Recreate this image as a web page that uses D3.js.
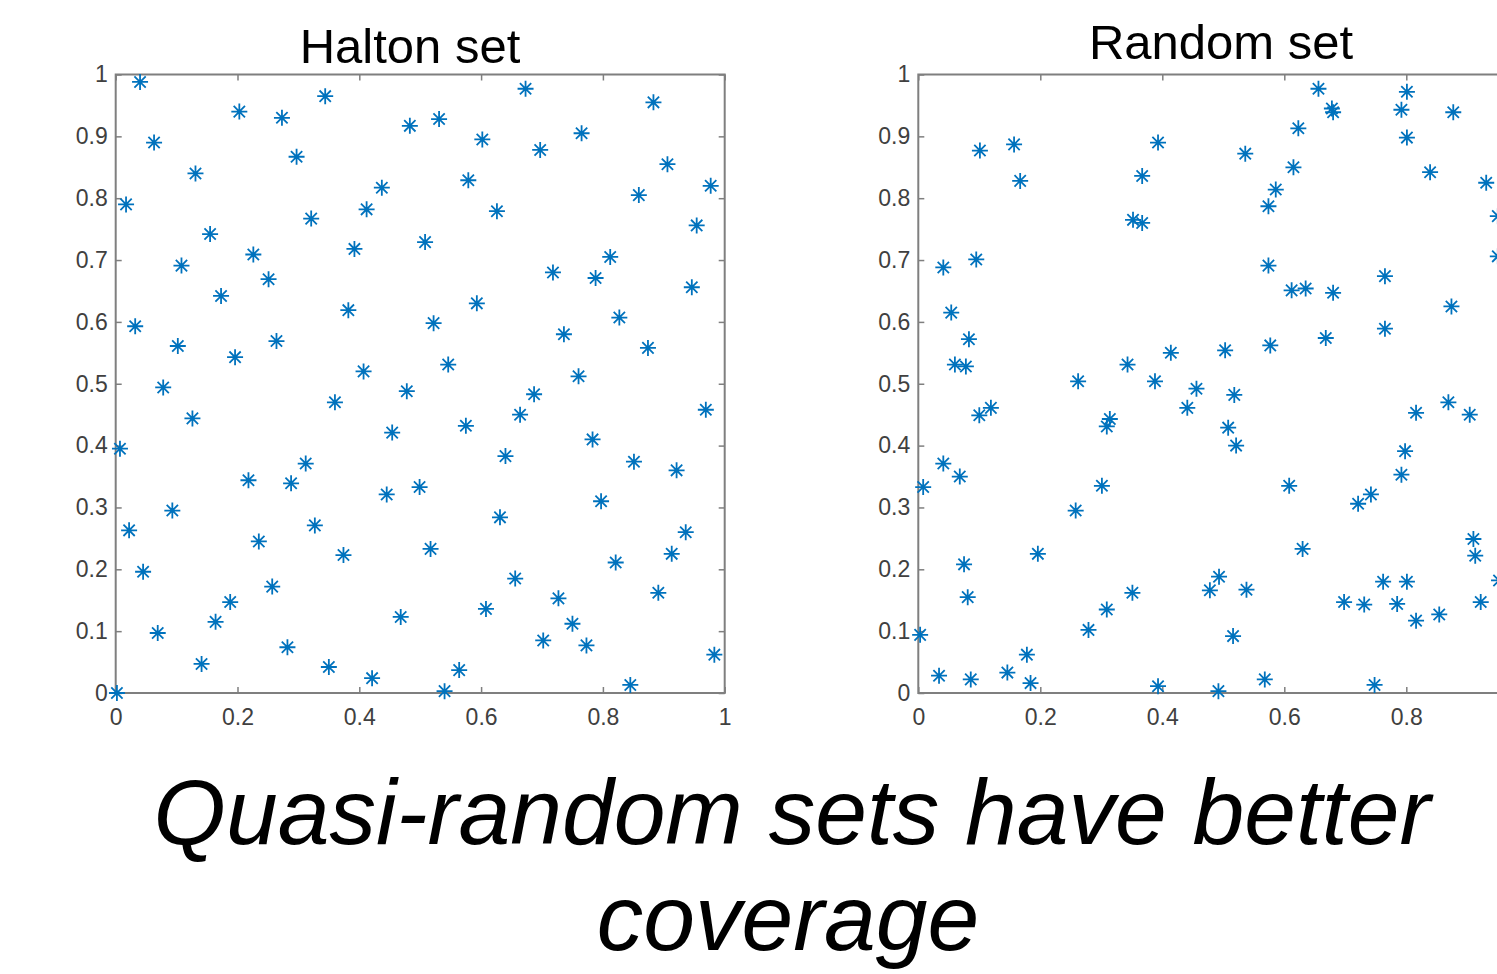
<!DOCTYPE html>
<html>
<head>
  <meta charset="utf-8">
  <title>Halton set vs Random set</title>
  <script src="https://d3js.org/d3.v7.min.js"></script>
  <style>
    body { margin: 0; overflow: hidden; background: #fff; }
    .tick text { font-family: "Liberation Sans", Arial, sans-serif; font-size: 23px; fill: #404040; }
    .tick line { stroke: #7f7f7f; stroke-width: 1.5; }
  </style>
</head>
<body>
<svg id="chart" width="1497" height="974"></svg>
<script>
// points
const haltonX = [0.040, 0.203, 0.273, 0.344, 0.483, 0.063, 0.297, 0.131, 0.437, 0.017,
  0.412, 0.321, 0.155, 0.392, 0.226, 0.108, 0.251, 0.173, 0.382, 0.032,
  0.102, 0.264, 0.196, 0.407,
  0.673, 0.883, 0.531, 0.602, 0.697, 0.765, 0.906, 0.579, 0.977, 0.859,
  0.626, 0.954, 0.508, 0.812, 0.718, 0.788, 0.946, 0.593, 0.827, 0.522,
  0.736, 0.874, 0.546, 0.760,
  0.078, 0.126, 0.007, 0.218, 0.288, 0.312, 0.360, 0.454, 0.478, 0.445,
  0.499, 0.093, 0.022, 0.327, 0.235, 0.374, 0.045, 0.257, 0.188, 0.164,
  0.468, 0.069, 0.282, 0.141, 0.350, 0.421, 0.002,
  0.687, 0.969, 0.664, 0.575, 0.783, 0.640, 0.851, 0.921, 0.797, 0.631,
  0.936, 0.517, 0.913, 0.821, 0.656, 0.891, 0.727, 0.608, 0.750, 0.702,
  0.773, 0.983, 0.564, 0.540, 0.845];
const haltonY = [0.988, 0.940, 0.930, 0.965, 0.917, 0.890, 0.867, 0.840, 0.817, 0.790,
  0.782, 0.767, 0.742, 0.718, 0.709, 0.691, 0.669, 0.642, 0.619, 0.593,
  0.561, 0.569, 0.543, 0.520,
  0.977, 0.955, 0.928, 0.895, 0.878, 0.905, 0.855, 0.829, 0.820, 0.805,
  0.779, 0.756, 0.729, 0.705, 0.680, 0.671, 0.656, 0.630, 0.607, 0.598,
  0.580, 0.558, 0.531, 0.512,
  0.494, 0.444, 0.395, 0.344, 0.339, 0.371, 0.470, 0.421, 0.488, 0.321,
  0.333, 0.295, 0.263, 0.271, 0.245, 0.223, 0.196, 0.172, 0.147, 0.115,
  0.123, 0.097, 0.074, 0.047, 0.042, 0.024, 0.000,
  0.483, 0.458, 0.450, 0.432, 0.410, 0.383, 0.374, 0.360, 0.310, 0.284,
  0.260, 0.233, 0.225, 0.211, 0.185, 0.162, 0.153, 0.136, 0.112, 0.085,
  0.077, 0.062, 0.037, 0.003, 0.013];

const randomX = [0.101, 0.157, 0.167, 0.393, 0.367, 0.352, 0.367, 0.041, 0.095, 0.054,
  0.083, 0.060, 0.078, 0.262, 0.343, 0.414, 0.388,
  0.656, 0.678, 0.680, 0.801, 0.792, 0.877, 0.801, 0.623, 0.536, 0.615,
  0.839, 0.931, 0.586, 0.574, 0.950, 0.574, 0.950, 0.765, 0.612, 0.635,
  0.680, 0.874, 0.765, 0.668, 0.577, 0.503,
  0.456, 0.100, 0.119, 0.441, 0.309, 0.314, 0.041, 0.068, 0.008, 0.301,
  0.258, 0.196, 0.075, 0.081, 0.351, 0.309, 0.279, 0.478, 0.003, 0.178,
  0.034, 0.086, 0.146, 0.184, 0.393,
  0.518, 0.508, 0.521, 0.816, 0.869, 0.904, 0.798, 0.792, 0.608, 0.721,
  0.742, 0.630, 0.910, 0.913, 0.493, 0.538, 0.762, 0.801, 0.698, 0.731,
  0.785, 0.816, 0.854, 0.922, 0.952, 0.516, 0.568, 0.748, 0.492];
const randomY = [0.877, 0.887, 0.828, 0.890, 0.836, 0.765, 0.760, 0.688, 0.701, 0.615,
  0.572, 0.531, 0.528, 0.504, 0.531, 0.550, 0.504,
  0.977, 0.945, 0.939, 0.972, 0.943, 0.939, 0.898, 0.913, 0.872, 0.850,
  0.842, 0.825, 0.814, 0.787, 0.771, 0.691, 0.706, 0.674, 0.651, 0.654,
  0.647, 0.625, 0.589, 0.574, 0.562, 0.554,
  0.492, 0.449, 0.461, 0.461, 0.431, 0.443, 0.371, 0.350, 0.333, 0.335,
  0.295, 0.225, 0.208, 0.155, 0.162, 0.135, 0.102, 0.166, 0.094, 0.062,
  0.028, 0.022, 0.033, 0.016, 0.011,
  0.482, 0.429, 0.400, 0.453, 0.470, 0.450, 0.391, 0.353, 0.335, 0.306,
  0.321, 0.233, 0.249, 0.222, 0.188, 0.167, 0.180, 0.180, 0.147, 0.143,
  0.144, 0.117, 0.127, 0.147, 0.182, 0.092, 0.022, 0.013, 0.003];

const xTicks = [0, 0.2, 0.4, 0.6, 0.8, 1];
const yTicks = [0, 0.1, 0.2, 0.3, 0.4, 0.5, 0.6, 0.7, 0.8, 0.9, 1];
const titles = ["Halton set", "Random set"];
const caption = ["Quasi-random sets have better", "coverage"];

const svg = d3.select("#chart");
const pageW = 1497;
const plotTop = 74.5, plotH = 618.5;
const axisColor = "#7f7f7f";
const blue = "#0072BD";

// matlab style '*' marker
const asterisk = {
  draw(ctx, size) {
    const r = Math.sqrt(size) / 2;
    const d = r * Math.SQRT1_2;
    ctx.moveTo(-r, 0); ctx.lineTo(r, 0);
    ctx.moveTo(0, -r); ctx.lineTo(0, r);
    ctx.moveTo(-d, -d); ctx.lineTo(d, d);
    ctx.moveTo(-d, d); ctx.lineTo(d, -d);
  }
};
const marker = d3.symbol().type(asterisk).size(256);

const panels = [
  { title: titles[0], xs: haltonX, ys: haltonY, left: 115.7, w: 609, titleX: 410, titleY: 63 },
  { title: titles[1], xs: randomX, ys: randomY, left: 918.3, w: 610, titleX: 1221, titleY: 59 }
];

panels.forEach(p => {
  const x = d3.scaleLinear().domain([0, 1]).range([0, p.w]);
  const y = d3.scaleLinear().domain([0, 1]).range([plotH, 0]);
  const fmt = d3.format("~g");

  const g = svg.append("g").attr("transform", `translate(${p.left},${plotTop})`);

  // the right panel runs off the page, so drop the labels that would be cut
  g.append("g")
    .attr("transform", `translate(0,${plotH})`)
    .call(d3.axisBottom(x).tickValues(xTicks).tickSize(-6).tickPadding(16).tickFormat(fmt))
    .call(a => a.select(".domain").remove())
    .call(a => a.selectAll(".tick text").filter(d => p.left + x(d) + 8 > pageW).remove());
  g.append("g")
    .call(d3.axisLeft(y).tickValues(yTicks).tickSize(-6).tickPadding(8).tickFormat(fmt))
    .call(a => a.select(".domain").remove());
  g.append("g")
    .call(d3.axisTop(x).tickValues(xTicks).tickSize(-6).tickFormat(""))
    .call(a => a.select(".domain").remove());
  g.append("g")
    .attr("transform", `translate(${p.w},0)`)
    .call(d3.axisRight(y).tickValues(yTicks).tickSize(-6).tickFormat(""))
    .call(a => a.select(".domain").remove());

  g.append("rect")
    .attr("width", p.w)
    .attr("height", plotH)
    .attr("fill", "none")
    .attr("stroke", axisColor)
    .attr("stroke-width", 2);

  g.selectAll("path.pt")
    .data(d3.range(p.xs.length))
    .enter()
    .append("path")
    .attr("class", "pt")
    .attr("transform", i => `translate(${x(p.xs[i])},${y(p.ys[i])})`)
    .attr("d", marker)
    .attr("fill", "none")
    .attr("stroke", blue)
    .attr("stroke-width", 1.8);

  svg.append("text")
    .attr("x", p.titleX)
    .attr("y", p.titleY)
    .attr("text-anchor", "middle")
    .style("font-family", "'Liberation Sans', Arial, sans-serif")
    .style("font-size", "49px")
    .attr("fill", "#000")
    .text(p.title);
});

svg.selectAll("text.caption")
  .data(caption)
  .enter()
  .append("text")
  .attr("class", "caption")
  .attr("x", (d, i) => i === 0 ? 792 : 788)
  .attr("y", (d, i) => i === 0 ? 844 : 950)
  .attr("text-anchor", "middle")
  .style("font-family", "'Liberation Sans', Arial, sans-serif")
  .style("font-style", "italic")
  .style("font-size", "93px")
  .attr("fill", "#000")
  .text(d => d);
</script>
</body>
</html>
